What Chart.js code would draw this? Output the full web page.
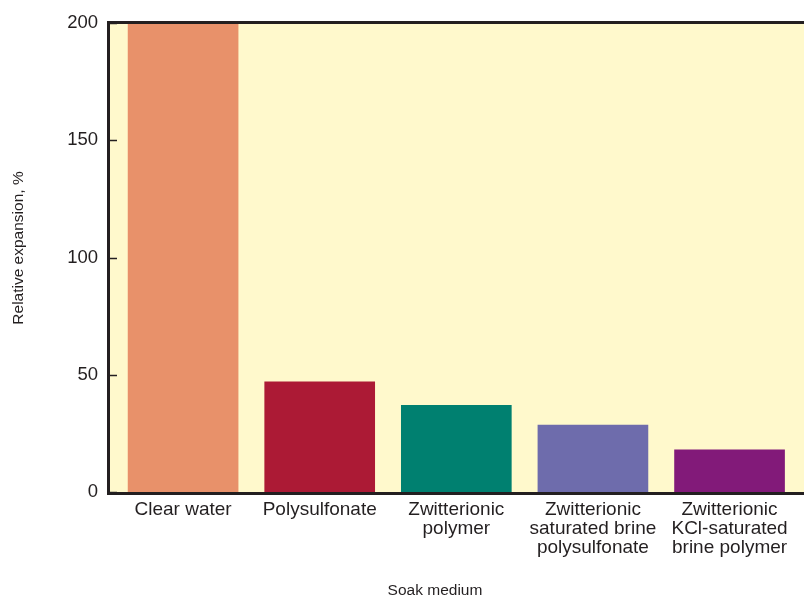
<!DOCTYPE html>
<html>
<head>
<meta charset="utf-8">
<script src="https://cdn.jsdelivr.net/npm/chart.js@4/dist/chart.umd.min.js"></script>
<style>
  html, body { margin: 0; padding: 0; background: #ffffff; }
  #wrap { width: 804px; height: 597px; }
</style>
</head>
<body>
<div id="wrap"><canvas id="c" width="804" height="597"></canvas></div>
<script>
// Soak media and their relative expansion (%)
const categories = [
  ['Clear water'],
  ['Polysulfonate'],
  ['Zwitterionic', 'polymer'],
  ['Zwitterionic', 'saturated brine', 'polysulfonate'],
  ['Zwitterionic', 'KCl-saturated', 'brine polymer']
];
const expansion = [200, 47, 37, 28.5, 18];
const barColors = ['#E8916A', '#AC1A35', '#008070', '#6E6CAC', '#821A79'];
const yTicks = [0, 50, 100, 150, 200];
const xTitle = 'Soak medium';
const yTitle = 'Relative expansion, %';

const INK = '#231F20';
const FONT = "'Liberation Sans', Arial, Helvetica, sans-serif";

// Pale plot background, framed on the left, top and bottom, with inward ticks
const framePlugin = {
  id: 'frame',
  beforeDraw(chart) {
    const { ctx, chartArea: a } = chart;
    ctx.save();
    ctx.fillStyle = '#FFF9CC';
    ctx.fillRect(a.left, a.top, a.right - a.left, a.bottom - a.top);
    ctx.restore();
  },
  afterDatasetsDraw(chart) {
    const { ctx, chartArea: a, scales } = chart;
    ctx.save();
    ctx.strokeStyle = INK;
    ctx.lineWidth = 3;
    ctx.beginPath();
    ctx.moveTo(a.right + 2, a.top - 0.5);
    ctx.lineTo(a.left - 1.5, a.top - 0.5);
    ctx.lineTo(a.left - 1.5, a.bottom + 1.5);
    ctx.lineTo(a.right + 2, a.bottom + 1.5);
    ctx.stroke();
    ctx.lineWidth = 1.5;
    scales.y.ticks.forEach(t => {
      const y = Math.round(scales.y.getPixelForValue(t.value)) + 0.5;
      ctx.beginPath();
      ctx.moveTo(a.left, y);
      ctx.lineTo(a.left + 7, y);
      ctx.stroke();
    });
    ctx.restore();
  },
  afterDraw(chart) {
    const { ctx, chartArea: a } = chart;
    ctx.save();
    ctx.fillStyle = INK;
    ctx.font = "15.5px " + FONT;
    ctx.textAlign = 'center';
    ctx.textBaseline = 'middle';
    ctx.fillText(xTitle, 435, 591);
    ctx.translate(19, 248);
    ctx.rotate(-Math.PI / 2);
    ctx.fillText(yTitle, 0, 0);
    ctx.restore();
  }
};

new Chart(document.getElementById('c'), {
  type: 'bar',
  data: {
    datasets: [{
      data: expansion.map((v, i) => ({ x: i, y: v })),
      backgroundColor: barColors,
      borderWidth: 0,
      barThickness: 110
    }]
  },
  options: {
    responsive: false,
    animation: false,
    devicePixelRatio: 1,
    layout: { padding: { top: 20, left: 0, right: 0, bottom: 0 } },
    plugins: { legend: { display: false }, tooltip: { enabled: false } },
    scales: {
      x: {
        type: 'linear',
        offset: false,
        min: -0.535,
        max: 4.545,
        grid: { display: false, drawTicks: false },
        border: { display: false },
        afterBuildTicks(scale) {
          scale.ticks = categories.map((_, i) => ({ value: i }));
        },
        afterFit(scale) { scale.height = 105; },
        ticks: {
          autoSkip: false,
          maxRotation: 0,
          padding: 8,
          color: INK,
          font: { family: FONT, size: 19, lineHeight: 1.0 },
          callback: (v) => categories[v] || ''
        }
      },
      y: {
        min: 0,
        max: 200,
        grid: { display: false, drawTicks: false },
        border: { display: false },
        afterBuildTicks(scale) {
          scale.ticks = yTicks.map(v => ({ value: v }));
        },
        afterFit(scale) { scale.width = 110; },
        ticks: {
          padding: 12,
          color: INK,
          font: { family: FONT, size: 18.5 }
        }
      }
    }
  },
  plugins: [framePlugin]
});
</script>
</body>
</html>
